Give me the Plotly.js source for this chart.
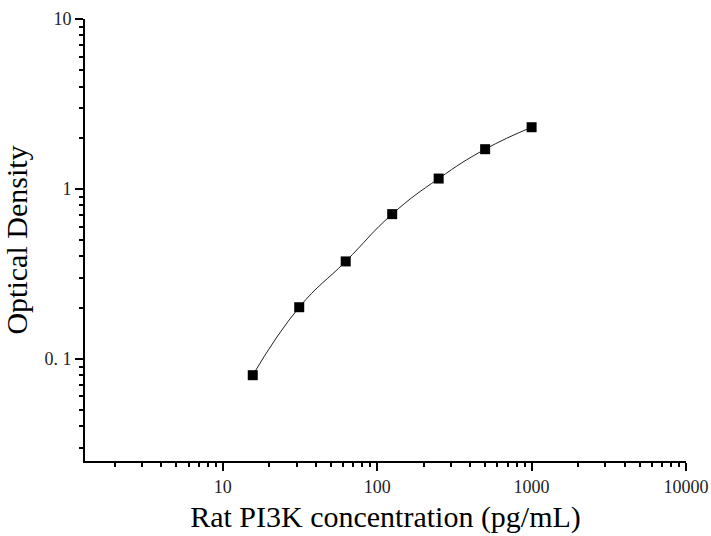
<!DOCTYPE html>
<html>
<head>
<meta charset="utf-8">
<script src="https://cdn.plot.ly/plotly-3.0.1.min.js"></script>
<style>html,body{margin:0;padding:0;background:#fff;}#chart{width:711px;height:536px;}</style>
</head>
<body>
<div id="chart"></div>
<script>
const concentration = [15.625, 31.25, 62.5, 125, 250, 500, 1000];
const opticalDensity = [0.080, 0.201, 0.374, 0.710, 1.150, 1.712, 2.306];
const xTickVals = [10, 100, 1000, 10000];
const xTickText = ["10", "100", "1000", "10000"];
const yTickVals = [0.1, 1, 10];
const yTickText = ["0. 1", "1", "10"];

function minorLogTicks(fromExp, toExp) {
  const v = [];
  for (let e = fromExp; e < toExp; e++) {
    for (let d = 2; d <= 9; d++) v.push(d * Math.pow(10, e));
  }
  return v;
}

const fontFam = "Liberation Serif, Times New Roman, serif";

const trace = {
  x: concentration,
  y: opticalDensity,
  type: "scatter",
  mode: "lines+markers",
  line: {shape: "spline", smoothing: 1.3, color: "#222", width: 1},
  marker: {symbol: "square", size: 10, color: "#000"},
  showlegend: false,
  hoverinfo: "x+y"
};

const axisCommon = {
  showline: true, linecolor: "#000", linewidth: 2,
  ticks: "outside", ticklen: 8, tickwidth: 2, tickcolor: "#000",
  showgrid: false, zeroline: false, mirror: false,
  tickfont: {family: fontFam, size: 18, color: "#222"},
  tickmode: "array"
};

const layout = {
  width: 711, height: 536,
  margin: {l: 85, r: 25, t: 19, b: 75},
  paper_bgcolor: "#fff", plot_bgcolor: "#fff",
  font: {family: fontFam, color: "#000"},
  xaxis: Object.assign({}, axisCommon, {
    type: "log",
    range: [Math.log10(1.28), 4],
    tickvals: xTickVals, ticktext: xTickText,
    minor: {ticks: "outside", ticklen: 4, tickwidth: 2, tickcolor: "#000", tickmode: "array", tickvals: minorLogTicks(0, 4), showgrid: false},
    title: {text: "Rat PI3K concentration (pg/mL)", font: {family: fontFam, size: 30, color: "#000"}, standoff: 10}
  }),
  yaxis: Object.assign({}, axisCommon, {
    type: "log",
    range: [Math.log10(0.025), 1],
    tickvals: yTickVals, ticktext: yTickText,
    minor: {ticks: "outside", ticklen: 4, tickwidth: 2, tickcolor: "#000", tickmode: "array", tickvals: minorLogTicks(-2, 1).filter(v => v >= 0.025), showgrid: false},
    title: {text: "Optical Density", font: {family: fontFam, size: 30, color: "#000"}, standoff: 8}
  })
};

Plotly.newPlot("chart", [trace], layout, {displayModeBar: false, staticPlot: true});
</script>
</body>
</html>
